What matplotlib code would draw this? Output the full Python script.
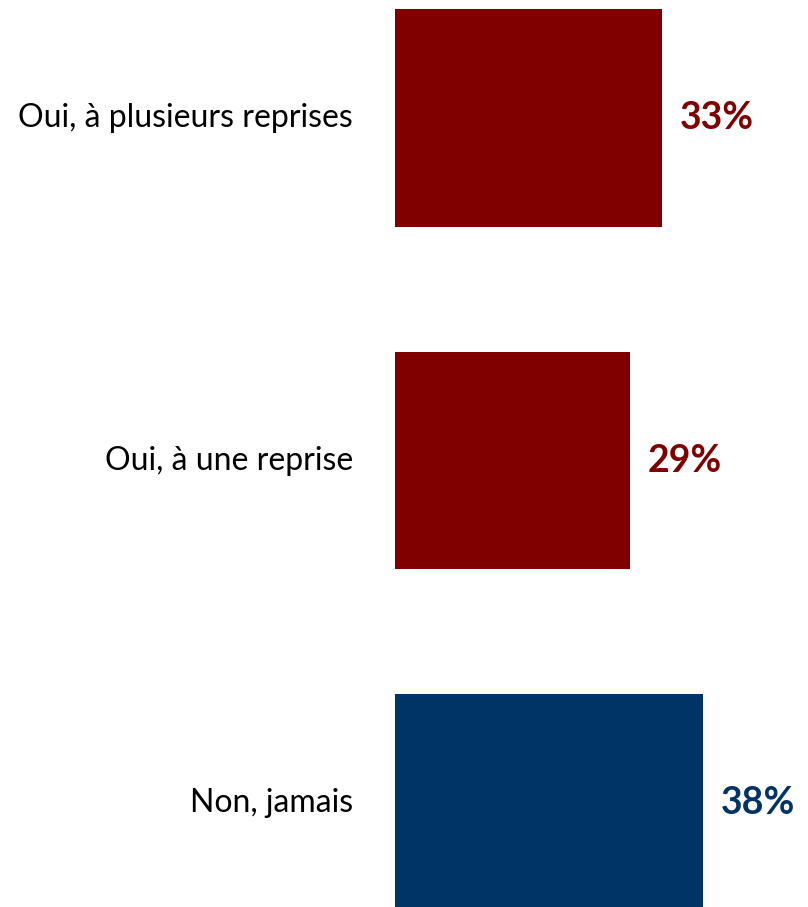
import matplotlib
matplotlib.use("Agg")
import matplotlib.pyplot as plt

categories = ["Oui, à plusieurs reprises", "Oui, à une reprise", "Non, jamais"]
values = [33, 29, 38]
colors = ["#800000", "#800000", "#003366"]

plt.rcParams['font.family'] = ['Lato', 'DejaVu Sans']

fig = plt.figure(figsize=(8.08, 9.07), dpi=100)
ax = fig.add_axes([395 / 808, 0, 1 - 395 / 808, 1])

y = list(range(len(categories)))
ax.barh(y, values, height=0.635, color=colors)

ax.set_xlim(0, 51)
ax.set_ylim(2.304, -0.345)
ax.axis("off")

for i, (cat, val, col) in enumerate(zip(categories, values, colors)):
    ax.annotate(cat, xy=(0, i), xytext=(-42, 0), textcoords="offset pixels",
                ha="right", va="center", fontsize=23, color="black")
    ax.annotate(f"{val}%", xy=(val, i), xytext=(18, 0), textcoords="offset pixels",
                ha="left", va="center", fontsize=27, fontweight="bold", color=col)

fig.savefig("out.png", dpi=100)
